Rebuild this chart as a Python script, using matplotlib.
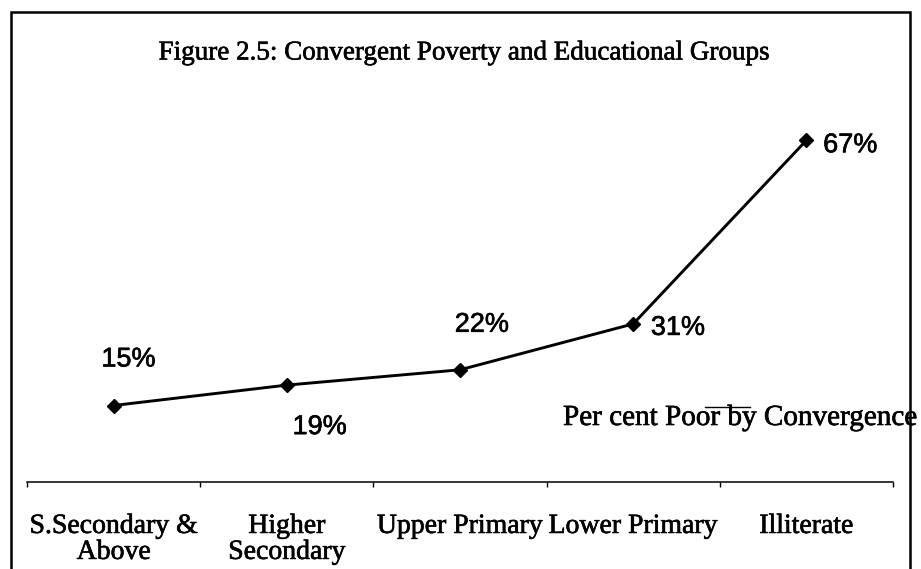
import matplotlib.pyplot as plt
import matplotlib.patheffects as pe
from matplotlib.lines import Line2D
from matplotlib.patches import Rectangle

# data
groups = ["S.Secondary &\nAbove", "Higher\nSecondary", "Upper Primary",
          "Lower Primary", "Illiterate"]
poor_pct = [15, 19, 22, 31, 67]
# label offsets (pixels) from each point, as placed in the original
label_dx = [15, 33, 22, 45, 44]
label_dy = [46, -42, 45, -4, -5]

W, H = 921, 569
fig = plt.figure(figsize=(W / 100, H / 100), dpi=100)
thick = [pe.withStroke(linewidth=0.45, foreground="black")]

ax = fig.add_axes([27 / W, (H - 482) / H, 866 / W, 408 / H])
xs = [i + 0.5 for i in range(len(poor_pct))]
ax.plot(xs, poor_pct, color="black", lw=2.1, marker="D", ms=7.5,
        label="Per cent Poor by Convergence")
for x, v, dx, dy in zip(xs, poor_pct, label_dx, label_dy):
    ax.annotate(f"{v}%", (x, v), xytext=(dx * 0.72, dy * 0.72),
                textcoords="offset points", ha="center", va="center",
                fontsize=19.5, family="Liberation Sans", path_effects=thick)

ax.set_xlim(0, len(groups))
ax.set_ylim(0, 80)
for s in ["left", "right", "top"]:
    ax.spines[s].set_visible(False)
ax.spines["bottom"].set_linewidth(1.1)
ax.set_yticks([])
ax.set_xticks(xs)
ax.set_xticklabels(groups, family="Liberation Serif", fontsize=20,
                   linespacing=1.05)
for t in ax.get_xticklabels():
    t.set_path_effects(thick)
ax.set_xticks(range(len(groups) + 1), minor=True)
ax.tick_params(axis="x", which="major", length=0, pad=23)
ax.tick_params(axis="x", which="minor", length=3.5, width=1, direction="out")

fig.text(464 / W, 1 - 53 / H, "Figure 2.5: Convergent Poverty and Educational Groups",
         ha="center", va="center", family="Liberation Serif", fontsize=19.5,
         path_effects=thick)

# legend entry, drawn the way it appears in the original
fig.add_artist(Line2D([705 / W, 750 / W], [1 - 407 / H, 1 - 407 / H],
                      color="black", lw=1))
fig.text(563 / W, 1 - 425 / H, "Per cent Poor by Convergence",
         ha="left", va="baseline", family="Liberation Serif", fontsize=21,
         path_effects=thick)

# outer frame (bottom edge lies outside the image)
fig.add_artist(Rectangle((11 / W, -0.1), (910 - 11) / W, 1.1 - 12 / H,
                         transform=fig.transFigure, fill=False,
                         edgecolor="black", lw=1.8, clip_on=False))

fig.savefig("out.png", dpi=100)
